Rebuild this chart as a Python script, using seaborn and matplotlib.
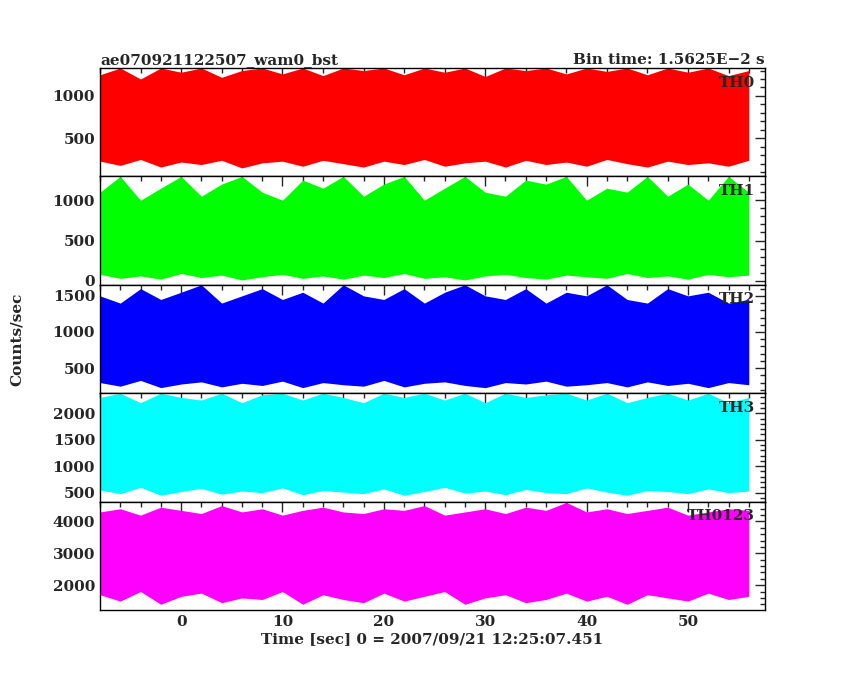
import numpy as np
import matplotlib
matplotlib.use("Agg")
import matplotlib.pyplot as plt
import seaborn as sns
from matplotlib.ticker import AutoMinorLocator

# time grid of the envelope readings (sec), one reading every 2 s
time_s = [-8, -6, -4, -2, 0, 2, 4, 6, 8, 10, 12, 14, 16, 18, 20, 22, 24,
          26, 28, 30, 32, 34, 36, 38, 40, 42, 44, 46, 48, 50, 52, 54, 56]

# upper / lower envelope of counts/sec
th0_hi = [1250, 1330, 1200, 1330, 1280, 1330, 1220, 1300, 1330, 1260, 1330, 1240, 1330, 1300,
          1330, 1250, 1330, 1280, 1330, 1230, 1330, 1300, 1330, 1260, 1330, 1290, 1330, 1250,
          1330, 1280, 1330, 1240, 1300]
th0_lo = [230, 180, 250, 160, 220, 190, 240, 150, 210, 230, 170, 240, 200, 160, 230, 190,
          250, 170, 210, 230, 160, 240, 190, 220, 170, 250, 200, 160, 230, 190, 210, 170, 240]
th1_hi = [1100, 1296, 1000, 1150, 1296, 1050, 1200, 1296, 1100, 1000, 1250, 1150, 1296, 1050,
          1200, 1296, 1000, 1150, 1296, 1100, 1050, 1250, 1200, 1296, 1000, 1150, 1100, 1296,
          1050, 1200, 1000, 1296, 1100]
th1_lo = [80, 30, 60, 20, 90, 40, 70, 10, 50, 80, 30, 60, 20, 70, 40, 90, 30, 50, 10, 60,
          80, 40, 20, 70, 50, 30, 90, 40, 60, 20, 80, 50, 70]
th2_hi = [1500, 1400, 1600, 1450, 1550, 1653, 1400, 1500, 1600, 1450, 1550, 1400, 1653, 1500,
          1450, 1600, 1400, 1550, 1653, 1500, 1450, 1600, 1400, 1550, 1500, 1653, 1450, 1400,
          1600, 1500, 1550, 1400, 1450]
th2_lo = [300, 250, 330, 230, 280, 310, 240, 290, 260, 320, 230, 300, 270, 250, 330, 240,
          290, 310, 260, 230, 300, 280, 320, 250, 270, 300, 240, 310, 260, 290, 230, 300, 270]
th3_hi = [2300, 2380, 2200, 2380, 2300, 2250, 2380, 2200, 2350, 2380, 2250, 2380, 2300, 2200,
          2380, 2300, 2380, 2250, 2380, 2200, 2380, 2300, 2350, 2380, 2250, 2380, 2200, 2300,
          2380, 2250, 2380, 2200, 2300]
th3_lo = [550, 480, 600, 450, 520, 580, 470, 530, 500, 590, 460, 540, 510, 480, 570, 450,
          520, 600, 490, 530, 460, 560, 500, 480, 590, 510, 450, 540, 520, 480, 570, 500, 530]
th0123_hi = [4300, 4400, 4200, 4450, 4350, 4250, 4500, 4300, 4400, 4200, 4350, 4450, 4300,
             4250, 4400, 4350, 4500, 4200, 4300, 4400, 4250, 4450, 4350, 4600, 4300, 4400,
             4250, 4350, 4450, 4200, 4300, 4400, 4350]
th0123_lo = [1700, 1500, 1800, 1400, 1650, 1750, 1450, 1600, 1550, 1800, 1400, 1700, 1550,
             1450, 1750, 1500, 1650, 1800, 1400, 1600, 1700, 1450, 1550, 1750, 1500, 1650,
             1400, 1700, 1600, 1500, 1750, 1550, 1650]

band_labels = ["TH0", "TH1", "TH2", "TH3", "TH0123"]
band_colors = ["#ff0000", "#00ff00", "#0000ff", "#00ffff", "#ff00ff"]
y_limits = [(50, 1330), (-50, 1296), (153, 1653), (330, 2380), (1220, 4625)]
y_ticks = [[500, 1000], [0, 500, 1000], [500, 1000, 1500],
           [500, 1000, 1500, 2000], [2000, 3000, 4000]]

sns.set_style("white")
plt.rcParams["font.family"] = ["DejaVu Serif"]
plt.rcParams["font.weight"] = "bold"

fig, axes = plt.subplots(5, 1, figsize=(8.5, 6.8), dpi=100, sharex=True)
fig.subplots_adjust(left=100 / 850, right=765 / 850, top=1 - 68 / 680,
                    bottom=1 - 610 / 680, hspace=0)

highs = [th0_hi, th1_hi, th2_hi, th3_hi, th0123_hi]
lows = [th0_lo, th1_lo, th2_lo, th3_lo, th0123_lo]
for ax, hi, lo, lab, col, yl, yt in zip(axes, highs, lows, band_labels,
                                        band_colors, y_limits, y_ticks):
    ax.fill_between(time_s, lo, hi, color=col, lw=0)
    ax.set_ylim(*yl)
    ax.set_yticks(yt)
    ax.set_xlim(-8.0, 57.6)
    ax.yaxis.set_minor_locator(AutoMinorLocator(5))
    ax.xaxis.set_minor_locator(AutoMinorLocator(5))
    ax.tick_params(which="both", direction="in", top=True, right=True,
                   labelsize=11, width=1)
    ax.tick_params(which="major", length=7)
    ax.tick_params(which="minor", length=3.5)
    for s in ax.spines.values():
        s.set_linewidth(1)
        s.set_color("black")
    ax.text(0.985, 0.93, lab, transform=ax.transAxes, ha="right", va="top",
            fontsize=11, fontweight="bold")

axes[-1].set_xticks([0, 10, 20, 30, 40, 50])
axes[-1].set_xlabel("Time [sec] 0 = 2007/09/21 12:25:07.451", fontsize=11,
                    fontweight="bold", labelpad=2)
fig.text(0.012, 1 - 339 / 680, "Counts/sec", rotation=90,
         ha="left", va="center", fontsize=11, fontweight="bold")
axes[0].set_title("ae070921122507_wam0_bst", loc="left", fontsize=11,
                  fontweight="bold", pad=3)
axes[0].set_title("Bin time: 1.5625E\u22122 s", loc="right", fontsize=11,
                  fontweight="bold", pad=3)

fig.savefig("out.png", dpi=100)
